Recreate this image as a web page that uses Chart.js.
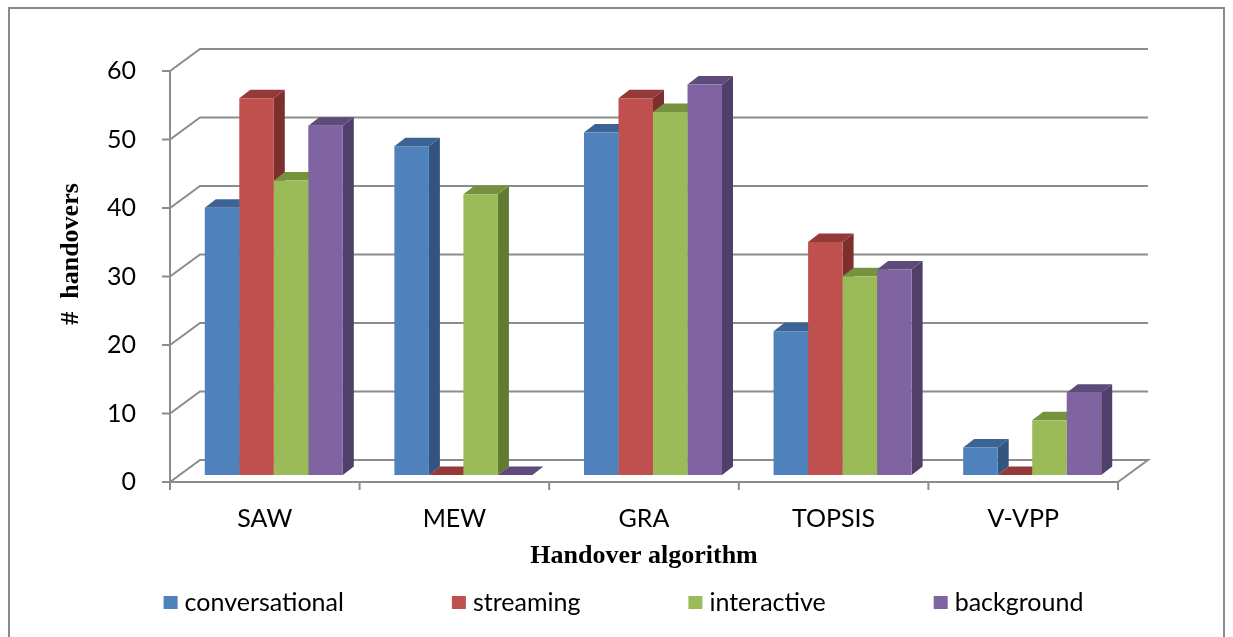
<!DOCTYPE html>
<html>
<head>
<meta charset="utf-8">
<title>Handovers per algorithm</title>
<script src="https://cdn.jsdelivr.net/npm/chart.js@4.4.0/dist/chart.umd.min.js"></script>
<style>
  html, body { margin: 0; padding: 0; background: #ffffff; }
  #wrap { width: 1233px; height: 637px; position: relative; }
</style>
</head>
<body>
<div id="wrap"><canvas id="c"></canvas></div>
<script>
// ---- data ----
const categories = ['SAW', 'MEW', 'GRA', 'TOPSIS', 'V-VPP'];
const conversational = [39, 48, 50, 21, 4];
const streaming = [55, 0, 55, 34, 0];
const interactive = [43, 41, 53, 29, 8];
const background = [51, 0, 57, 30, 12];
const seriesNames = ['conversational', 'streaming', 'interactive', 'background'];
const yMin = 0, yMax = 60, yStep = 10;
const axisTitleX = 'Handover algorithm';
const axisTitleY = '#  handovers';

// ---- styling ----
const frontColors = ['#4f81bd', '#c0504d', '#9bbb59', '#8064a2'];
const topColors   = ['#3b6393', '#953a38', '#77923e', '#5f4a7c'];
const sideColors  = ['#32557f', '#7d2f2d', '#637a33', '#503f69'];
const UI = "Lato, 'Open Sans', sans-serif";
const SERIF = "'Liberation Serif', 'DejaVu Serif', serif";
const LABEL_SIZE = 25;
const GRID = '#8c8c8c';
const WALL = { x: 30, y: -22 };      // depth of the side wall / floor
const SHIFT = { x: 9, y: -7 };       // bar row sits partway into the floor
const DEPTH = { x: 11, y: -8.5 };    // depth of each bar

const seriesValues = [conversational, streaming, interactive, background];

// Draws walls, floor, bar sides/tops, frame, rotated axis title and legend
const box3d = {
  id: 'box3d',
  beforeDraw(chart) {
    const ctx = chart.ctx;
    ctx.save();
    ctx.fillStyle = '#ffffff';
    ctx.fillRect(0, 0, chart.width, chart.height);
    ctx.strokeStyle = '#8a8a8a';
    ctx.lineWidth = 2;
    ctx.strokeRect(9, 8, chart.width - 18, chart.height + 10);
    ctx.restore();
  },
  beforeDatasetsDraw(chart) {
    const { ctx, chartArea: a, scales: { x, y } } = chart;
    const y0 = y.getPixelForValue(yMin);
    ctx.save();
    ctx.strokeStyle = GRID;
    ctx.lineWidth = 2;
    ctx.lineJoin = 'miter';
    for (let v = yMin; v <= yMax; v += yStep) {
      const py = y.getPixelForValue(v);
      ctx.beginPath();
      ctx.moveTo(a.left - 8, py);
      ctx.lineTo(a.left, py);
      ctx.lineTo(a.left + WALL.x, py + WALL.y);
      ctx.lineTo(a.right + WALL.x, py + WALL.y);
      if (v === yMin) ctx.lineTo(a.right, py);
      ctx.stroke();
    }
    // front vertical axis and floor edge
    ctx.beginPath();
    ctx.moveTo(a.left, y.getPixelForValue(yMax));
    ctx.lineTo(a.left, y0 + 8);
    ctx.moveTo(a.left, y0);
    ctx.lineTo(a.right, y0);
    const n = categories.length;
    for (let i = 1; i <= n; i++) {
      const bx = a.left + i * (a.right - a.left) / n;
      ctx.moveTo(bx, y0);
      ctx.lineTo(bx, y0 + 8);
    }
    ctx.stroke();
    ctx.restore();

    // bar side and top faces, left to right; front faces follow from Chart.js
    ctx.save();
    ctx.translate(SHIFT.x, SHIFT.y);
    for (let i = 0; i < n; i++) {
      for (let d = 0; d < seriesValues.length; d++) {
        const el = chart.getDatasetMeta(d).data[i];
        const p = el.getProps(['x', 'y', 'base', 'width'], true);
        const l = p.x - p.width / 2, r = p.x + p.width / 2;
        const top = Math.min(p.y, p.base), bot = Math.max(p.y, p.base);
        ctx.fillStyle = sideColors[d];
        ctx.beginPath();
        ctx.moveTo(r, top);
        ctx.lineTo(r + DEPTH.x, top + DEPTH.y);
        ctx.lineTo(r + DEPTH.x, bot + DEPTH.y);
        ctx.lineTo(r, bot);
        ctx.closePath();
        ctx.fill();
        ctx.fillStyle = topColors[d];
        ctx.beginPath();
        ctx.moveTo(l, top);
        ctx.lineTo(r, top);
        ctx.lineTo(r + DEPTH.x, top + DEPTH.y);
        ctx.lineTo(l + DEPTH.x, top + DEPTH.y);
        ctx.closePath();
        ctx.fill();
      }
    }
    // translation stays active while the front faces are drawn
  },
  afterDatasetsDraw(chart) {
    const { ctx } = chart;
    ctx.restore();

    // rotated value-axis title
    ctx.save();
    ctx.translate(71, 254);
    ctx.rotate(-Math.PI / 2);
    ctx.fillStyle = '#000';
    ctx.font = "bold 26px " + SERIF;
    ctx.textAlign = 'center';
    ctx.textBaseline = 'middle';
    ctx.fillText(axisTitleY, 0, 0);
    ctx.restore();

    // legend row
    ctx.save();
    ctx.font = LABEL_SIZE + "px " + UI;
    ctx.textBaseline = 'middle';
    const boxW = 14, boxH = 13, gapText = 7, gapItem = 108;
    const widths = seriesNames.map(s => boxW + gapText + ctx.measureText(s).width);
    const total = widths.reduce((s, w) => s + w, 0) + gapItem * (widths.length - 1);
    let cx = chart.width / 2 + 7 - total / 2;
    const cy = 603;
    seriesNames.forEach((s, k) => {
      ctx.fillStyle = frontColors[k];
      ctx.fillRect(cx, cy - 7, boxW, boxH);
      ctx.fillStyle = '#000';
      ctx.fillText(s, cx + boxW + gapText, cy);
      cx += widths[k] + gapItem;
    });
    ctx.restore();
  }
};

const datasets = seriesNames.map((name, k) => ({
  label: name,
  data: seriesValues[k],
  backgroundColor: frontColors[k],
  borderWidth: 0,
  categoryPercentage: 0.728,
  barPercentage: 1.0,
  clip: false
}));

new Chart(document.getElementById('c'), {
  type: 'bar',
  data: { labels: categories, datasets },
  plugins: [box3d],
  options: {
    responsive: true,
    maintainAspectRatio: false,
    animation: false,
    layout: { padding: { top: 71, right: 115, bottom: 65, left: 0 } },
    plugins: { legend: { display: false }, tooltip: { enabled: false } },
    scales: {
      x: {
        grid: { display: false },
        border: { display: false },
        ticks: { color: '#000', font: { family: UI, size: LABEL_SIZE }, padding: 14 },
        title: {
          display: true, text: axisTitleX, color: '#000', padding: 0,
          font: { family: SERIF, size: 26, weight: 'bold' }
        },
        afterFit(s) { s.height = 90; }
      },
      y: {
        min: yMin, max: yMax,
        grid: { display: false },
        border: { display: false },
        ticks: { stepSize: yStep, color: '#000', font: { family: UI, size: LABEL_SIZE }, padding: 26 },
        afterFit(s) { s.width = 170; }
      }
    }
  }
});
</script>
</body>
</html>
